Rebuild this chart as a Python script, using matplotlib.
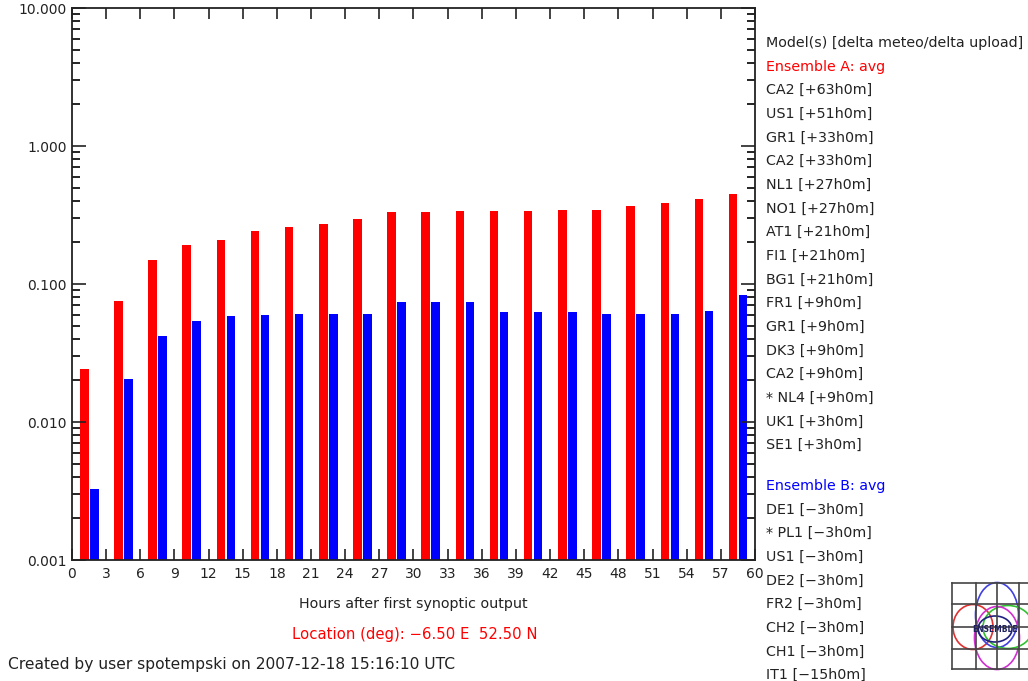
import matplotlib
matplotlib.use("Agg")
import matplotlib.pyplot as plt
import matplotlib.ticker as mticker
from matplotlib.patches import Ellipse
import numpy as np

# hours after first synoptic output (groups of 3 h)
hours = np.arange(0, 60, 3)
ens_a = [0.0242, 0.0757, 0.149, 0.191, 0.208, 0.243, 0.259, 0.271, 0.294, 0.331,
         0.331, 0.336, 0.336, 0.336, 0.344, 0.344, 0.367, 0.384, 0.411, 0.449]
ens_b = [0.00327, 0.0204, 0.0420, 0.0537, 0.0583, 0.0596, 0.0609, 0.0609, 0.0609, 0.0741,
         0.0741, 0.0741, 0.0623, 0.0623, 0.0623, 0.0609, 0.0609, 0.0609, 0.0634, 0.0828]
xticks = np.arange(0, 61, 3)
yticks = [0.001, 0.01, 0.1, 1.0, 10.0]
ytick_labels = ["0.001", "0.010", "0.100", "1.000", "10.000"]

header = "Model(s) [delta meteo/delta upload]"
models_a = ["CA2 [+63h0m]", "US1 [+51h0m]", "GR1 [+33h0m]", "CA2 [+33h0m]", "NL1 [+27h0m]",
            "NO1 [+27h0m]", "AT1 [+21h0m]", "FI1 [+21h0m]", "BG1 [+21h0m]", "FR1 [+9h0m]",
            "GR1 [+9h0m]", "DK3 [+9h0m]", "CA2 [+9h0m]", "* NL4 [+9h0m]", "UK1 [+3h0m]",
            "SE1 [+3h0m]"]
models_b = ["DE1 [\u22123h0m]", "* PL1 [\u22123h0m]", "US1 [\u22123h0m]", "DE2 [\u22123h0m]",
            "FR2 [\u22123h0m]", "CH2 [\u22123h0m]", "CH1 [\u22123h0m]", "IT1 [\u221215h0m]"]

W, H = 1028, 681
fig = plt.figure(figsize=(W / 100, H / 100), dpi=100)
ax = fig.add_axes([72 / W, 1 - 560 / H, (755 - 72) / W, (560 - 8) / H])

bw = 0.75
ax.bar(hours + 0.7, ens_a, width=bw, align="edge", color="#ff0000", bottom=1e-6)
ax.bar(hours + 1.58, ens_b, width=bw, align="edge", color="#0000ff", bottom=1e-6)

ax.set_yscale("log")
ax.set_ylim(0.001, 10)
ax.set_xlim(0, 60)
ax.set_xticks(xticks)
ax.set_xticklabels([str(x) for x in xticks])
ax.yaxis.set_major_locator(mticker.FixedLocator(yticks))
ax.yaxis.set_major_formatter(mticker.FixedFormatter(ytick_labels))
ax.yaxis.set_minor_locator(mticker.LogLocator(base=10, subs=np.arange(2, 10)))
ax.yaxis.set_minor_formatter(mticker.NullFormatter())

ax.tick_params(axis="x", which="major", direction="in", length=8, width=1.2,
               top=True, bottom=True, labelsize=10, pad=5, colors="#222222")
ax.tick_params(axis="y", which="major", direction="in", length=10, width=1.2,
               left=True, right=True, labelsize=10, pad=4, colors="#222222")
ax.tick_params(axis="y", which="minor", direction="in", length=6, width=1.2,
               left=True, right=True)
for s in ax.spines.values():
    s.set_linewidth(1.3)
    s.set_color("#222222")

fig.text(413 / W, 1 - 604 / H, "Hours after first synoptic output", ha="center", va="center",
         fontsize=10.3, color="#222222")
fig.text(415 / W, 1 - 635 / H, "Location (deg): \u22126.50 E  52.50 N", ha="center", va="center",
         fontsize=10.7, color="#ff0000")
fig.text(8 / W, 1 - 665 / H, "Created by user spotempski on 2007-12-18 15:16:10 UTC",
         ha="left", va="center", fontsize=11.2, color="#222222")

# model list on the right
tx = 766 / W
step = 23.65
fs = 10.3
fig.text(tx, 1 - 43 / H, header, fontsize=fs, va="center", color="#222222")
fig.text(tx, 1 - (43 + step) / H, "Ensemble A: avg", fontsize=fs, va="center", color="#ff0000")
for i, m in enumerate(models_a):
    fig.text(tx, 1 - (43 + step * (i + 2)) / H, m, fontsize=fs, va="center", color="#222222")
fig.text(tx, 1 - 486 / H, "Ensemble B: avg", fontsize=fs, va="center", color="#0000ff")
for i, m in enumerate(models_b):
    fig.text(tx, 1 - (486 + step * (i + 1)) / H, m, fontsize=fs, va="center", color="#222222")

# logo
lax = fig.add_axes([948 / W, 0, (W - 948) / W, 1 - 576 / H])
lax.set_xlim(948, W)
lax.set_ylim(H, 576)
lax.axis("off")
for gx in [952, 976, 997, 1019]:
    lax.plot([gx, gx], [583, 669], color="#444444", lw=1.2)
for gy in [583, 604, 627, 649, 669]:
    lax.plot([952, W], [gy, gy], color="#444444", lw=1.2)
lax.add_patch(Ellipse((973, 627), 40, 45, fill=False, ec="#e03030", lw=1.2))
lax.add_patch(Ellipse((997, 615), 43, 65, fill=False, ec="#4040e0", lw=1.2))
lax.add_patch(Ellipse((1008, 627), 50, 43, fill=False, ec="#30c030", lw=1.2))
lax.add_patch(Ellipse((997, 638), 45, 63, fill=False, ec="#d030d0", lw=1.2))
lax.add_patch(Ellipse((995, 629), 34, 26, fill=False, ec="#202080", lw=1.2))
lax.text(995, 629, "ENSEMBLE", ha="center", va="center", fontsize=6, color="#202060",
         fontweight="bold", fontstretch="condensed")

fig.savefig("out.png", dpi=100)
